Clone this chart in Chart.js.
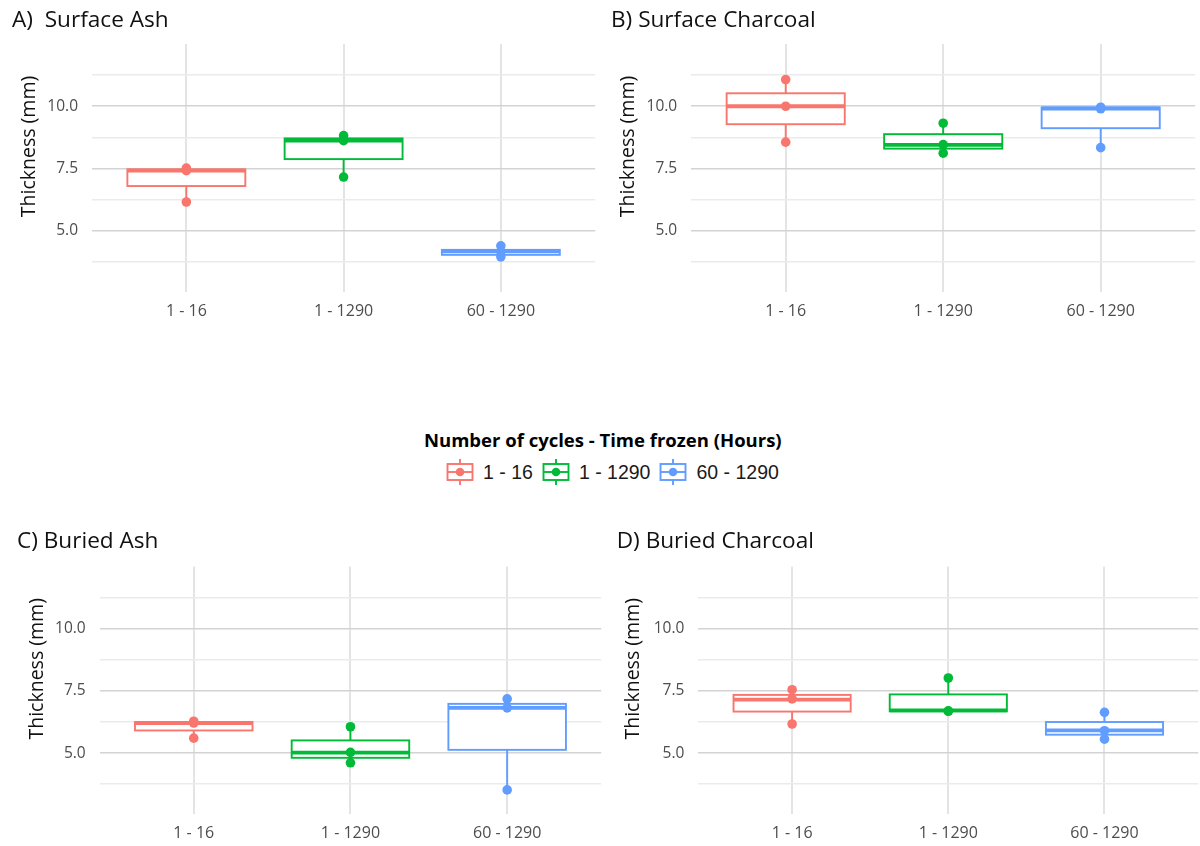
<!DOCTYPE html>
<html>
<head>
<meta charset="utf-8">
<script src="https://cdn.jsdelivr.net/npm/chart.js@4.4.1/dist/chart.umd.min.js"></script>
<style>
  html, body { margin: 0; padding: 0; background: #fff; width: 1200px; height: 846px; overflow: hidden; }
  canvas { position: absolute; }
  #legendTitle { position: absolute; left: 424px; top: 427px; font-family: 'Open Sans', sans-serif; font-weight: 700; font-size: 18.5px; color: #000; white-space: nowrap; }
  #legendItems { position: absolute; left: 446px; top: 459px; display: flex; align-items: center; font-family: 'Liberation Sans', Arial, sans-serif; font-size: 19.5px; color: #1a1a1a; white-space: nowrap; }
  .item { display: flex; align-items: center; margin-right: 9px; }
  .item svg { margin-right: 9px; }
</style>
</head>
<body>
<canvas id="panelA" width="600" height="340" style="left:0;top:0"></canvas>
<canvas id="panelB" width="600" height="340" style="left:600px;top:0"></canvas>
<canvas id="panelC" width="606" height="346" style="left:0;top:500px"></canvas>
<canvas id="panelD" width="603" height="346" style="left:600px;top:500px"></canvas>
<div id="legendTitle">Number of cycles - Time frozen (Hours)</div>
<div id="legendItems"></div>

<script>
// Groups: number of freeze–thaw cycles - hours frozen
const categories = ['1 - 16', '1 - 1290', '60 - 1290'];
const groupColors = ['#F8766D', '#00BA38', '#619CFF'];

// Y axis ticks (major labelled, minor unlabelled)
const yMajorTicks = [5, 7.5, 10];
const yMinorTicks = [3.75, 6.25, 8.75, 11.25];

// Individual thickness measurements (mm), one list per group
const surfaceAshPoints      = [[6.16, 7.42, 7.52], [7.16, 8.62, 8.82], [3.96, 4.17, 4.40]];
const surfaceCharcoalPoints = [[8.56, 10.00, 11.07], [8.12, 8.46, 9.32], [8.34, 9.90, 9.96]];
const buriedAshPoints       = [[5.60, 6.21, 6.28], [4.61, 5.03, 6.06], [3.52, 6.82, 7.18]];
const buriedCharcoalPoints  = [[6.17, 7.18, 7.55], [6.68, 6.70, 8.02], [5.56, 5.90, 6.64]];

// Box summaries per group: [lower whisker, Q1, median, Q3, upper whisker]
const surfaceAshBoxes      = [[6.16, 6.80, 7.42, 7.47, 7.52], [7.16, 7.88, 8.62, 8.71, 8.82], [3.96, 4.04, 4.18, 4.24, 4.40]];
const surfaceCharcoalBoxes = [[8.56, 9.28, 10.00, 10.52, 11.07], [8.12, 8.30, 8.45, 8.88, 9.32], [8.34, 9.12, 9.91, 9.95, 9.96]];
const buriedAshBoxes       = [[5.60, 5.91, 6.21, 6.25, 6.28], [4.61, 4.81, 5.02, 5.51, 6.06], [3.52, 5.13, 6.82, 6.98, 7.18]];
const buriedCharcoalBoxes  = [[6.17, 6.67, 7.15, 7.34, 7.55], [6.68, 6.68, 6.72, 7.36, 8.02], [5.56, 5.74, 5.91, 6.25, 6.64]];

const panelTitles = ['A)  Surface Ash', 'B) Surface Charcoal', 'C) Buried Ash', 'D) Buried Charcoal'];
const yAxisTitle = 'Thickness (mm)';

const BOX_HALF = 0.375;
const Y_TITLE_RAISE = 21.5;   // axis title sits a little above the panel centre

// Draws whiskers, boxes and medians under the points
function boxPlotPlugin(boxes) {
  return {
    id: 'boxplot',
    beforeDatasetsDraw(chart) {
      const { ctx, chartArea, scales: { x, y } } = chart;
      ctx.save();
      ctx.beginPath();
      ctx.rect(chartArea.left, chartArea.top, chartArea.width, chartArea.height);
      ctx.clip();
      boxes.forEach((b, i) => {
        const [lo, q1, med, q3, hi] = b;
        const cx = x.getPixelForValue(i + 1);
        const half = x.getPixelForValue(i + 1 + BOX_HALF) - cx;
        const yTop = y.getPixelForValue(q3);
        const yBot = y.getPixelForValue(q1);
        const yMed = y.getPixelForValue(med);
        ctx.strokeStyle = groupColors[i];
        ctx.lineWidth = 1.9;
        ctx.beginPath();
        ctx.moveTo(cx, yTop); ctx.lineTo(cx, y.getPixelForValue(hi));
        ctx.moveTo(cx, yBot); ctx.lineTo(cx, y.getPixelForValue(lo));
        ctx.stroke();
        ctx.fillStyle = '#ffffff';
        ctx.fillRect(cx - half, yTop, 2 * half, yBot - yTop);
        ctx.strokeRect(cx - half, yTop, 2 * half, yBot - yTop);
        ctx.lineWidth = 3.8;
        ctx.beginPath();
        ctx.moveTo(cx - half, yMed); ctx.lineTo(cx + half, yMed);
        ctx.stroke();
      });
      ctx.restore();
    }
  };
}

// Raises the y-axis title by drawing it against a shortened span
const raiseYTitle = {
  id: 'raiseYTitle',
  afterLayout(chart) {
    const s = chart.scales.y;
    if (s._raisedTitle) return;
    const draw = s.drawTitle.bind(s);
    s.drawTitle = function () {
      const b = this.bottom;
      this.bottom = b - 2 * Y_TITLE_RAISE;
      draw();
      this.bottom = b;
    };
    s._raisedTitle = true;
  }
};

function makePanel(id, title, points, boxes, g) {
  const datasets = categories.map((c, i) => ({
    label: c,
    data: points[i].map(v => ({ x: i + 1, y: v })),
    backgroundColor: groupColors[i],
    borderColor: groupColors[i],
    borderWidth: 0,
    pointRadius: 4.8,
    pointHoverRadius: 4.8
  }));
  const yTicks = [...yMinorTicks, ...yMajorTicks].sort((a, b) => a - b);
  new Chart(document.getElementById(id), {
    type: 'scatter',
    data: { datasets },
    options: {
      responsive: false,
      animation: false,
      events: [],
      layout: { padding: { left: g.L, right: g.R, top: 0, bottom: g.B } },
      plugins: {
        legend: { display: false },
        tooltip: { enabled: false },
        title: {
          display: true, text: title, align: 'start', color: '#111',
          font: { family: 'Open Sans', size: 22.6, weight: 'normal', lineHeight: 1.2 },
          padding: { top: g.T1, bottom: g.T2 }
        }
      },
      scales: {
        x: {
          type: 'linear', min: 0.4, max: 3.6,
          afterBuildTicks: s => { s.ticks = categories.map((c, i) => ({ value: i + 1 })); },
          afterFit: s => { s.height = g.H; },
          ticks: {
            callback: v => categories[v - 1], color: '#4d4d4d', padding: 10,
            maxRotation: 0, autoSkip: false,
            font: { family: 'Open Sans', size: 16 }
          },
          grid: { color: '#e4e4e4', lineWidth: 2, drawTicks: false },
          border: { display: false }
        },
        y: {
          min: 2.55, max: 12.5,
          afterBuildTicks: s => { s.ticks = yTicks.map(v => ({ value: v })); },
          afterFit: s => { s.width = g.W; },
          ticks: {
            callback: v => yMajorTicks.includes(v) ? v.toFixed(1) : '',
            color: '#4d4d4d', padding: 14,
            font: { family: 'Open Sans', size: 15.5 }
          },
          grid: {
            color: ctx => (ctx.tick && yMajorTicks.includes(ctx.tick.value)) ? '#d3d3d3' : '#ebebeb',
            lineWidth: 1.6, drawTicks: false
          },
          border: { display: false },
          title: {
            display: true, text: yAxisTitle, color: '#111',
            font: { family: 'Open Sans', size: 19.5, lineHeight: 1.2 },
            padding: { top: g.p, bottom: 0 }
          }
        }
      }
    },
    plugins: [boxPlotPlugin(boxes), raiseYTitle]
  });
}

makePanel('panelA', panelTitles[0], surfaceAshPoints, surfaceAshBoxes,
  { L: 12, R: 2, B: 6, H: 42, T1: 6.8, T2: 10.0, W: 80, p: 5.6 });
makePanel('panelB', panelTitles[1], surfaceCharcoalPoints, surfaceCharcoalBoxes,
  { L: 11, R: 3, B: 6, H: 42, T1: 6.8, T2: 10.0, W: 80.2, p: 5.3 });
makePanel('panelC', panelTitles[2], buriedAshPoints, buriedAshBoxes,
  { L: 17, R: 1.7, B: 0, H: 32, T1: 27.8, T2: 11.7, W: 82.7, p: 8.3 });
makePanel('panelD', panelTitles[3], buriedCharcoalPoints, buriedCharcoalBoxes,
  { L: 16.7, R: 0, B: 0, H: 32, T1: 27.8, T2: 11.7, W: 81.7, p: 4.6 });

// Legend keys: small box-and-whisker glyph with a point
const legendItems = document.getElementById('legendItems');
categories.forEach((c, i) => {
  const col = groupColors[i];
  const item = document.createElement('div');
  item.className = 'item';
  item.innerHTML =
    '<svg width="28" height="26" viewBox="0 0 28 26">' +
    `<line x1="14" y1="0" x2="14" y2="5" stroke="${col}" stroke-width="1.9"/>` +
    `<line x1="14" y1="21" x2="14" y2="26" stroke="${col}" stroke-width="1.9"/>` +
    `<rect x="1.5" y="5" width="25" height="16" fill="#fff" stroke="${col}" stroke-width="1.9"/>` +
    `<line x1="1.5" y1="13" x2="26.5" y2="13" stroke="${col}" stroke-width="1.9"/>` +
    `<circle cx="14" cy="13" r="4.3" fill="${col}"/>` +
    '</svg>';
  const label = document.createElement('span');
  label.textContent = c;
  item.appendChild(label);
  legendItems.appendChild(item);
});
</script>
</body>
</html>
